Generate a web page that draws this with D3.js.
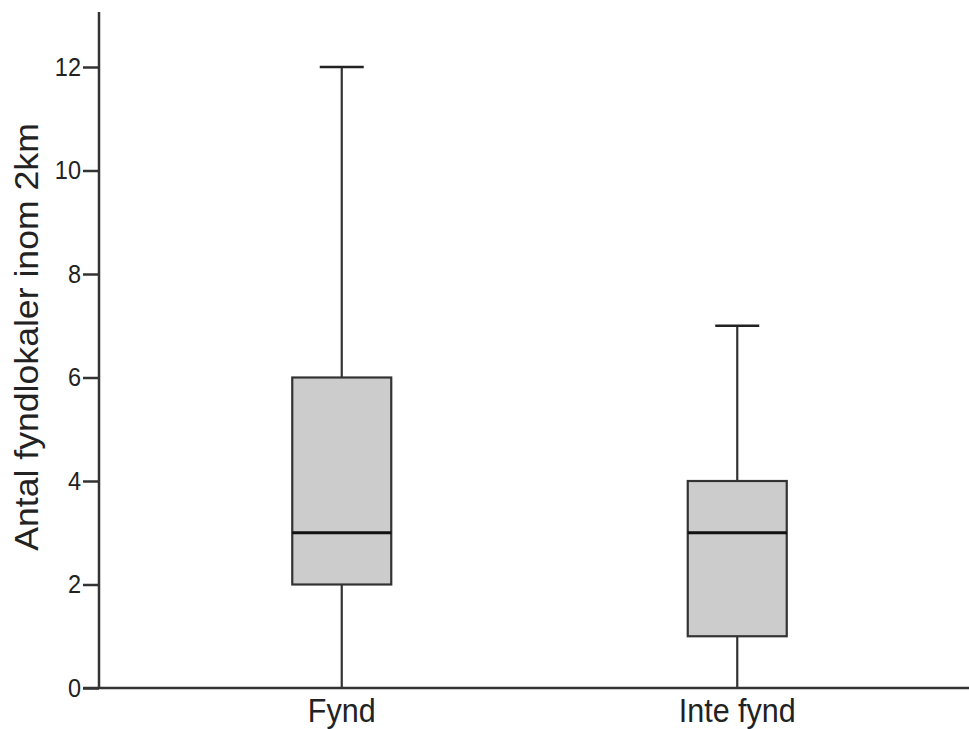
<!DOCTYPE html>
<html>
<head>
<meta charset="utf-8">
<script src="https://cdn.jsdelivr.net/npm/d3@7"></script>
<style>
    body { margin: 0; background: #fff; }
    svg { display: block; font-family: "Liberation Sans", Arial, sans-serif; }
</style>
</head>
<body>
<script>
(function(){

    //chart data
    var groups = ["Fynd", "Inte fynd"];
    var whiskerLow = [0, 0];
    var q1 = [2, 1];
    var medians = [3, 3];
    var q3 = [6, 4];
    var whiskerHigh = [12, 7];
    var yTicks = [0, 2, 4, 6, 8, 10, 12];
    var yLabel = "Antal fyndlokaler inom 2km";

    window.onload = setChart();

    function setChart(){
        var width = 969,
            height = 729,
            axisLeft = 99,
            axisBottom = 688,
            stretch = "scale(1,1.07)";

        var svg = d3.select("body")
            .append("svg")
            .attr("width", width)
            .attr("height", height);

        //y scale, 0 at the bottom axis, 12 at y=67
        var yScale = d3.scaleLinear()
            .domain([0, 12])
            .range([axisBottom, 67]);

        //x scale for the two groups
        var xScale = d3.scalePoint()
            .domain(groups)
            .range([144, 935])
            .padding(0.5);

        var boxWidth = 99,
            capWidth = 44;

        //box plots
        var boxes = svg.selectAll(".box")
            .data(groups)
            .enter()
            .append("g")
            .attr("class", "box")
            .attr("transform", function(d){
                return "translate(" + xScale(d) + ",0)";
            });

        //whisker lines
        boxes.append("line")
            .attr("x1", 0).attr("x2", 0)
            .attr("y1", function(d, i){ return yScale(whiskerHigh[i]); })
            .attr("y2", function(d, i){ return yScale(q3[i]); })
            .attr("stroke", "#333").attr("stroke-width", 2.2);
        boxes.append("line")
            .attr("x1", 0).attr("x2", 0)
            .attr("y1", function(d, i){ return yScale(q1[i]); })
            .attr("y2", function(d, i){ return yScale(whiskerLow[i]); })
            .attr("stroke", "#333").attr("stroke-width", 2.2);

        //whisker caps
        boxes.append("line")
            .attr("x1", -capWidth / 2).attr("x2", capWidth / 2)
            .attr("y1", function(d, i){ return yScale(whiskerHigh[i]); })
            .attr("y2", function(d, i){ return yScale(whiskerHigh[i]); })
            .attr("stroke", "#222").attr("stroke-width", 2.5);

        //interquartile boxes
        boxes.append("rect")
            .attr("x", -boxWidth / 2)
            .attr("width", boxWidth)
            .attr("y", function(d, i){ return yScale(q3[i]); })
            .attr("height", function(d, i){ return yScale(q1[i]) - yScale(q3[i]); })
            .attr("fill", "#cccccc")
            .attr("stroke", "#333")
            .attr("stroke-width", 2.2);

        //median lines
        boxes.append("line")
            .attr("x1", -boxWidth / 2).attr("x2", boxWidth / 2)
            .attr("y1", function(d, i){ return yScale(medians[i]); })
            .attr("y2", function(d, i){ return yScale(medians[i]); })
            .attr("stroke", "#111").attr("stroke-width", 3);

        //y axis
        var yAxis = d3.axisLeft(yScale)
            .tickValues(yTicks)
            .tickSize(16)
            .tickPadding(2)
            .tickFormat(d3.format("d"));

        var gy = svg.append("g")
            .attr("class", "axis")
            .attr("transform", "translate(" + axisLeft + ",0)")
            .call(yAxis);
        gy.select(".domain").remove();
        gy.selectAll(".tick line").attr("stroke", "#333").attr("stroke-width", 2.5);
        gy.selectAll(".tick text")
            .attr("fill", "#222")
            .style("font-size", "23.5px")
            .attr("transform", stretch);

        //y axis line
        svg.append("line")
            .attr("x1", axisLeft).attr("x2", axisLeft)
            .attr("y1", 12).attr("y2", axisBottom)
            .attr("stroke", "#333").attr("stroke-width", 2.5);

        //x axis line
        svg.append("line")
            .attr("x1", axisLeft - 16).attr("x2", width)
            .attr("y1", axisBottom).attr("y2", axisBottom)
            .attr("stroke", "#333").attr("stroke-width", 2.5);

        //x category labels
        svg.selectAll(".xlabel")
            .data(groups)
            .enter()
            .append("text")
            .attr("class", "xlabel")
            .attr("text-anchor", "middle")
            .attr("fill", "#222")
            .style("font-size", "30.5px")
            .attr("transform", function(d){
                return "translate(" + xScale(d) + ",722) " + stretch;
            })
            .text(function(d){ return d; });

        //y axis title
        svg.append("text")
            .attr("text-anchor", "middle")
            .attr("fill", "#222")
            .style("font-size", "33px")
            .attr("transform", "translate(38,337) rotate(-90) scale(1.08,1)")
            .text(yLabel);
    };

})();
</script>
</body>
</html>
